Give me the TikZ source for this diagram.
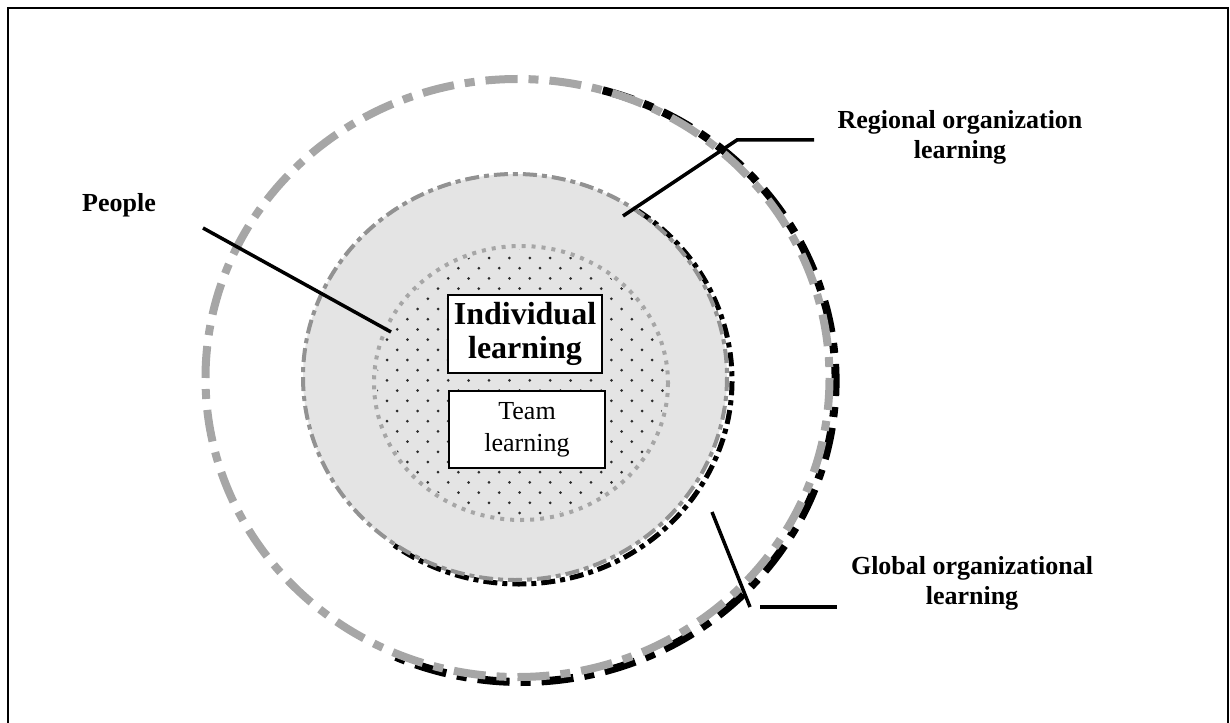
\documentclass[tikz,border=0pt]{standalone}
\usepackage{fontspec}
\setmainfont{Liberation Serif}
\definecolor{rimgray}{HTML}{A6A6A6}
\definecolor{midgray}{HTML}{929292}
\definecolor{fillgray}{HTML}{E4E4E4}
\definecolor{dotgray}{HTML}{2C2C2C}

\begin{document}
\begin{tikzpicture}[x=1pt, y=-1pt,
    tag/.style={font=\fontsize{26}{30}\selectfont\bfseries, align=center},
    box/.style={draw, line width=1.3pt, fill=white, align=center, inner sep=0pt},
    leader/.style={line width=3.5pt},
    outerrim/.style={line width=8pt, dash pattern=on 32pt off 11pt on 10pt off 11pt},
    midrim/.style={line width=4pt, dash pattern=on 14pt off 5pt on 5pt off 5pt},
    innerrim/.style={line width=4pt, rimgray, dash pattern=on 4pt off 6pt} ]
      \useasboundingbox (0,0) rectangle (1230,722);
      \clip (0,0) rectangle (1230,722);
      \draw[line width=2pt] (8,8) rectangle (1228,740);
      \fill[fillgray] (515,377) ellipse [x radius=212, y radius=203];
      \begin{scope}
        \clip (521,383) ellipse [x radius=144, y radius=134];
        \foreach \i in {0,...,28}
          \foreach \j in {-6,...,9}
            \fill[dotgray] ({478.8+10.2*mod(\i,2)+20.4*\j}, {247.8+10.2*\i}) circle [radius=1.5pt];
      \end{scope}
      \draw[outerrim, black] (521.5,381) ++(-75:314 and 301) arc [start angle=-75, end angle=114, x radius=314, y radius=301];
      \draw[outerrim, rimgray] (517.5,378) ellipse [x radius=312, y radius=299];
      \draw[midrim, black, line width=5pt] (519,380) ++(-56:213 and 204) arc [start angle=-56, end angle=127, x radius=213, y radius=204];
      \draw[midrim, midgray] (515,377) ellipse [x radius=212, y radius=203];
      \draw[innerrim] (521,383) ellipse [x radius=147, y radius=137];
      \node[box, minimum width=154pt, minimum height=78pt, font=\fontsize{32}{34}\selectfont\bfseries] (individual) at (525,334) {Individual\\learning};
      \node[box, minimum width=156pt, minimum height=77pt, font=\fontsize{26}{32}\selectfont] (team) at (527,429.5) {Team\\learning};
      \node[tag] (people) at (119,205) {People};
      \node[tag] (regional) at (960,137) {Regional organization\\learning};
      \node[tag] (global) at (972,583) {Global organizational\\learning};
      \coordinate (p1) at (203,228);
      \coordinate (p2) at (391,332);
      \coordinate (r1) at (623,216);
      \coordinate (r2) at (737,140);
      \coordinate (r3) at (814,140);
      \coordinate (g1) at (712,512);
      \coordinate (g2) at (750,607);
      \coordinate (g3) at (760,607);
      \coordinate (g4) at (837,607);
\draw[leader] (p1)--(p2);
\draw[leader] (r1)--(r2)--(r3);
\draw[leader] (g1)--(g2);
\draw[leader, line width=4pt] (g3)--(g4);
      \end{tikzpicture}
\end{document}
